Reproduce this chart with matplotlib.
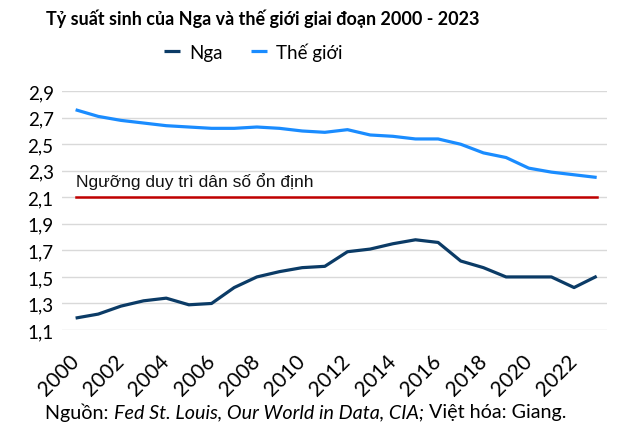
import numpy as np
import matplotlib
matplotlib.use("Agg")
from matplotlib import pyplot as plt
from matplotlib import transforms

# ---- data ----
years = list(range(2000, 2024))
nga = [1.19, 1.22, 1.28, 1.32, 1.34, 1.29, 1.30, 1.42, 1.50, 1.54, 1.57, 1.58,
       1.69, 1.71, 1.75, 1.78, 1.76, 1.62, 1.57, 1.50, 1.50, 1.50, 1.42, 1.505]
the_gioi = [2.76, 2.71, 2.68, 2.66, 2.64, 2.63, 2.62, 2.62, 2.63, 2.62, 2.60, 2.59,
            2.61, 2.57, 2.56, 2.54, 2.54, 2.50, 2.435, 2.40, 2.32, 2.29, 2.27, 2.25]
nguong = 2.1
y_ticks = [1.1, 1.3, 1.5, 1.7, 1.9, 2.1, 2.3, 2.5, 2.7, 2.9]
x_tick_years = list(range(2000, 2023, 2))

FONT = ['Lato', 'DejaVu Sans']
plt.rcParams['font.family'] = FONT

fig = plt.figure(figsize=(6.22, 4.39), dpi=100)
ax = fig.add_axes([0.0997, 0.246, 0.876, 0.544])

x = np.arange(len(years))
ax.plot(x, nga, color='#0b3b66', lw=2.3, label='Nga', solid_capstyle='butt')
ax.plot(x, the_gioi, color='#1a8cff', lw=2.3, label='Thế giới', solid_capstyle='butt')
ax.plot([x[0], x[-1]], [nguong, nguong], color='#c00000', lw=1.8)
ax.text(x[0], nguong + 0.065, 'Ngưỡng duy trì dân số ổn định', fontsize=12.5,
        family=['Liberation Sans', 'DejaVu Sans'], va='bottom', ha='left', color='#111111')

ax.set_xlim(-0.6, len(years) - 0.55)
ax.set_ylim(1.1, 2.9)
ax.set_yticks(y_ticks)
ax.set_yticklabels([('%.1f' % v).replace('.', ',') for v in y_ticks], fontsize=13.5)
ax.set_xticks([years.index(y) for y in x_tick_years])
ax.set_xticklabels([str(y) for y in x_tick_years], fontsize=15, rotation=45,
                   ha='right', va='top', rotation_mode='anchor')
ax.tick_params(length=0)
ax.tick_params(axis='y', pad=6)
ax.tick_params(axis='x', pad=15)
shift = transforms.ScaledTranslation(-0.07, 0, fig.dpi_scale_trans)
for lab in ax.get_xticklabels():
    lab.set_transform(lab.get_transform() + shift)
ax.grid(axis='y', color='#d9d9d9', lw=1)
ax.set_axisbelow(True)
for s in ax.spines.values():
    s.set_visible(False)

fig.text(0.423, 0.958, 'Tỷ suất sinh của Nga và thế giới giai đoạn 2000 - 2023',
         ha='center', va='center', fontsize=13, fontweight='bold')
fig.legend(loc='center', bbox_to_anchor=(0.407, 0.88), ncol=2, frameon=False,
           fontsize=13.5, handlelength=0.85, columnspacing=1.5, handletextpad=0.5)

# source line with italic middle part
parts = [('Nguồn: ', 'normal'), ('Fed St. Louis, Our World in Data, CIA;', 'italic'),
         (' Việt hóa: Giang.', 'normal')]
fig.canvas.draw()
r = fig.canvas.get_renderer()
xpos = 45 / 622
for txt, st in parts:
    t = fig.text(xpos, 1 - 413 / 439, txt, fontsize=14.2, style=st, va='center', ha='left')
    bb = t.get_window_extent(renderer=r)
    xpos += bb.width / fig.bbox.width

fig.savefig('out.png', dpi=100)
